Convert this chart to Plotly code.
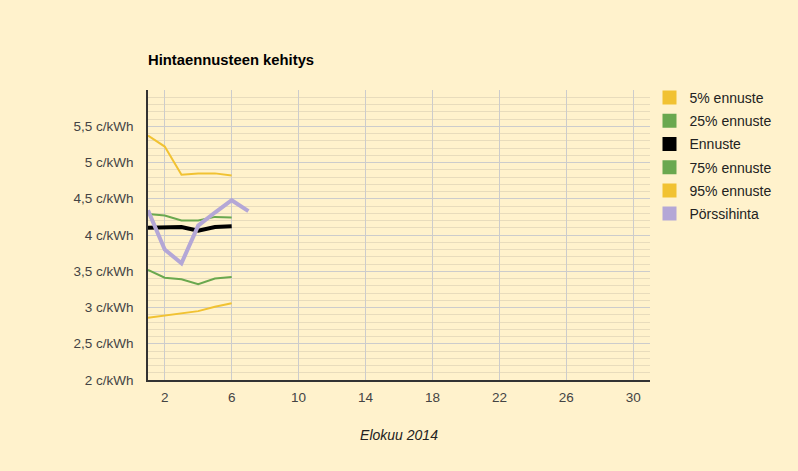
import plotly.graph_objects as go

days = [1, 2, 3, 4, 5, 6]
price_days = [1, 2, 3, 4, 5, 6, 7]

p95 = [5.37, 5.22, 4.83, 4.85, 4.85, 4.82]
p75 = [4.29, 4.27, 4.20, 4.20, 4.25, 4.24]
forecast = [4.10, 4.11, 4.11, 4.06, 4.11, 4.12]
p25 = [3.52, 3.41, 3.39, 3.32, 3.40, 3.42]
p5 = [2.86, 2.89, 2.92, 2.95, 3.01, 3.06]
exchange = [4.34, 3.80, 3.61, 4.13, 4.31, 4.48, 4.33]

y_ticks = [2, 2.5, 3, 3.5, 4, 4.5, 5, 5.5]
y_labels = ["2 c/kWh", "2,5 c/kWh", "3 c/kWh", "3,5 c/kWh", "4 c/kWh",
            "4,5 c/kWh", "5 c/kWh", "5,5 c/kWh"]
x_ticks = [2, 6, 10, 14, 18, 22, 26, 30]

legend_names = ["5% ennuste", "25% ennuste", "Ennuste", "75% ennuste",
                "95% ennuste", "Pörssihinta"]

YELLOW = "#f1c232"
GREEN = "#6aa84f"
BLACK = "#000000"
PURPLE = "#b4a7d6"
legend_colors = [YELLOW, GREEN, BLACK, GREEN, YELLOW, PURPLE]

fig = go.Figure()

lines = [
    (days, p5, YELLOW, 2),
    (days, p25, GREEN, 2),
    (days, p75, GREEN, 2),
    (days, p95, YELLOW, 2),
    (days, forecast, BLACK, 4),
    (price_days, exchange, PURPLE, 4),
]
for x, y, c, w in lines:
    fig.add_trace(go.Scatter(x=x, y=y, mode="lines", showlegend=False,
                             line=dict(color=c, width=w), hoverinfo="skip"))

# square legend entries
for name, c in zip(legend_names, legend_colors):
    fig.add_trace(go.Scatter(x=[None], y=[None], mode="markers", name=name,
                             legendgroup=name,
                             marker=dict(symbol="square", size=14, color=c)))

fig.update_layout(
    width=798, height=471,
    margin=dict(l=148, r=148, t=90, b=91),
    paper_bgcolor="#fff2cc",
    plot_bgcolor="#fff2cc",
    font=dict(family="Liberation Sans, Arial", size=13.5, color="#444444"),
    title=dict(text="<b>Hintaennusteen kehitys</b>", x=148 / 798, xanchor="left",
               y=1 - 60 / 471, yanchor="middle",
               font=dict(size=14.8, color="#000000")),
    xaxis=dict(range=[1, 31], tickvals=x_ticks, showgrid=True,
               gridcolor="#cccccc", gridwidth=1, zeroline=False,
               showline=True, linecolor="#333333", linewidth=1.5,
               ticks="", ticklabelstandoff=4,
               title=dict(text="<i>Elokuu 2014</i>", standoff=26,
                          font=dict(size=14, color="#222222"))),
    yaxis=dict(range=[2, 6], tickvals=y_ticks, ticktext=y_labels,
               showgrid=True, gridcolor="#cccccc", gridwidth=1,
               zeroline=False, showline=True, linecolor="#333333",
               linewidth=1.5, ticks="", ticklabelstandoff=10,
               minor=dict(dtick=0.1, showgrid=True, gridcolor="#e8dcbc",
                          gridwidth=1)),
    legend=dict(x=0.999, xanchor="left", y=1 + 8 / 290, yanchor="top",
                tracegroupgap=2, font=dict(size=14, color="#222222"),
                bgcolor="rgba(0,0,0,0)", itemclick=False),
    hovermode=False,
)

fig.write_html("out.html", config={"displayModeBar": False},
               post_script="document.body.style.margin='0';")
